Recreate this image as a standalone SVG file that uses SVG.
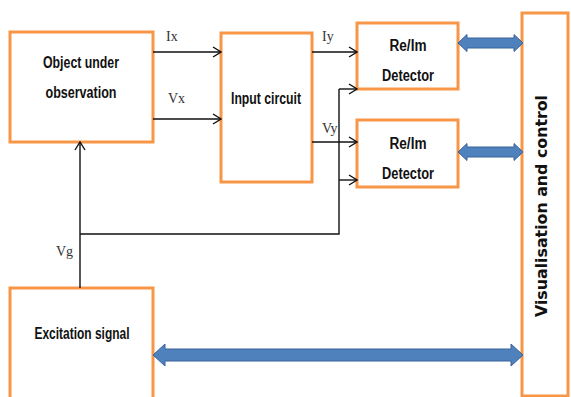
<svg xmlns="http://www.w3.org/2000/svg" width="571" height="397" viewBox="0 0 571 397">
<defs>
<marker id="open" markerWidth="10" markerHeight="12" refX="9" refY="6" orient="auto" markerUnits="userSpaceOnUse">
<path d="M1,1 L9,6 L1,11" fill="none" stroke="#111" stroke-width="1.4"/>
</marker>
</defs>
<style>
.box{fill:#fff;stroke:#F79646;stroke-width:3}
.lbl{font-family:"Liberation Sans",Arial,sans-serif;font-weight:bold;font-size:16px;fill:#111;text-anchor:middle;dominant-baseline:central}
.sig{font-family:"Liberation Serif","Times New Roman",serif;font-size:14px;fill:#333}
.ln{fill:none;stroke:#111;stroke-width:1.4}
.ar{marker-end:url(#open)}
.blue{fill:#4F81BD;stroke:#3A639A;stroke-width:1}
</style>
<rect width="571" height="397" fill="#fff"/>
<g id="object">
<rect class="box" x="10" y="32" width="143" height="110"/>
<text class="lbl" x="81" y="62" textLength="76" lengthAdjust="spacingAndGlyphs">Object under</text>
<text class="lbl" x="81" y="92" textLength="71" lengthAdjust="spacingAndGlyphs">observation</text>
</g>
<g id="input">
<rect class="box" x="221" y="33" width="91" height="149"/>
<text class="lbl" x="266" y="98" textLength="70" lengthAdjust="spacingAndGlyphs">Input circuit</text>
</g>
<g id="det1">
<rect class="box" x="357" y="23" width="101" height="66"/>
<text class="lbl" x="408" y="45" textLength="37" lengthAdjust="spacingAndGlyphs">Re/Im</text>
<text class="lbl" x="408" y="75" textLength="52" lengthAdjust="spacingAndGlyphs">Detector</text>
</g>
<g id="det2">
<rect class="box" x="357" y="120" width="101" height="67"/>
<text class="lbl" x="408" y="143" textLength="37" lengthAdjust="spacingAndGlyphs">Re/Im</text>
<text class="lbl" x="408" y="173" textLength="52" lengthAdjust="spacingAndGlyphs">Detector</text>
</g>
<g id="vis">
<rect class="box" x="522" y="13" width="46" height="383"/>
<text x="542" y="206" transform="rotate(-90 542 206)" font-family="'DejaVu Sans',Verdana,sans-serif" font-weight="bold" font-size="15" fill="#111" text-anchor="middle" dominant-baseline="central" textLength="222" lengthAdjust="spacingAndGlyphs">Visualisation and control</text>
</g>
<g id="excitation">
<rect class="box" x="10" y="288" width="143" height="112"/>
<text class="lbl" x="82" y="333" textLength="95" lengthAdjust="spacingAndGlyphs">Excitation signal</text>
</g>
<g id="connectors">
<line class="ln ar" x1="153" y1="52" x2="221" y2="52"/>
<line class="ln ar" x1="153" y1="119" x2="221" y2="119"/>
<line class="ln ar" x1="312" y1="52" x2="357" y2="52"/>
<line class="ln ar" x1="312" y1="142" x2="357" y2="142"/>
<polyline class="ln ar" points="80,288 80,142"/>
<polyline class="ln" points="80,234 339,234 339,89"/>
<line class="ln ar" x1="339" y1="89" x2="357" y2="89"/>
<line class="ln ar" x1="339" y1="180" x2="357" y2="180"/>
<path class="blue" d="M458,43 L467,34.5 L467,38 L514,38 L514,34.5 L523,43 L514,51.5 L514,48 L467,48 L467,51.5 Z"/>
<path class="blue" d="M458,152 L467,143.5 L467,147 L514,147 L514,143.5 L523,152 L514,160.5 L514,157 L467,157 L467,160.5 Z"/>
<path class="blue" d="M153,355 L165,344 L165,349 L511,349 L511,344 L523,355 L511,366 L511,361 L165,361 L165,366 Z"/>
<text class="sig" x="166" y="41">Ix</text>
<text class="sig" x="168" y="103">Vx</text>
<text class="sig" x="322" y="41">Iy</text>
<text class="sig" x="322" y="133">Vy</text>
<text class="sig" x="56" y="256">Vg</text>
</g>
</svg>
